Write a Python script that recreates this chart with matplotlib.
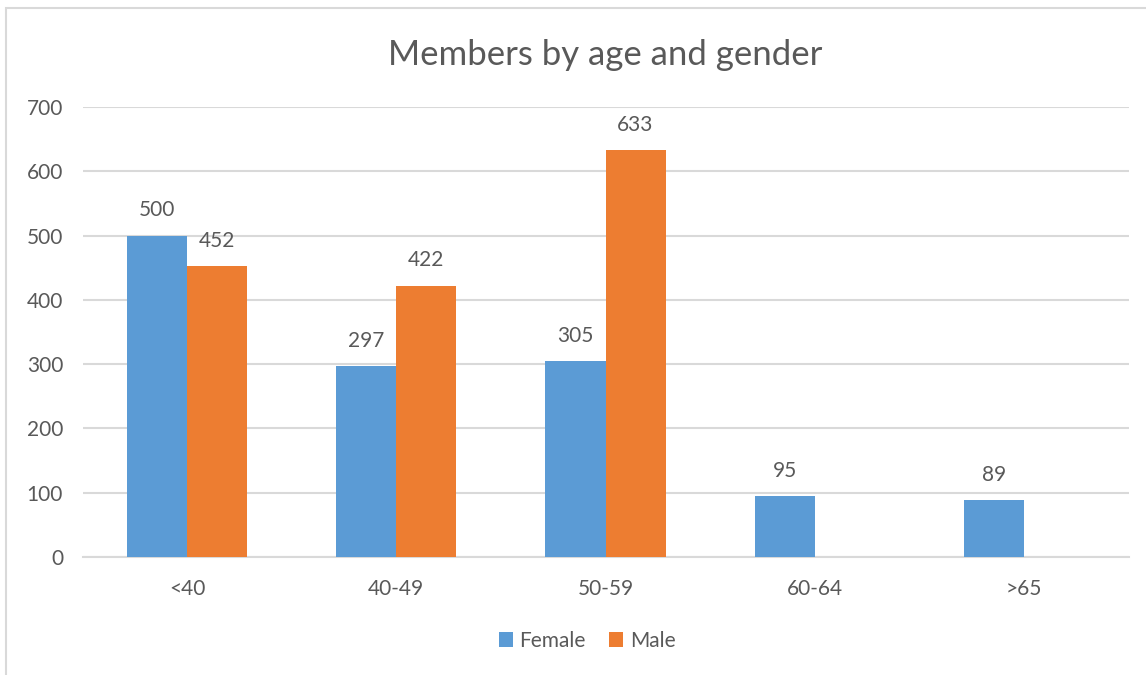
import matplotlib
matplotlib.use("Agg")
from matplotlib import pyplot as plt
from matplotlib.patches import Rectangle
import numpy as np

plt.rcParams['font.family'] = ['Lato', 'DejaVu Sans']

# data
age_groups = ['<40', '40-49', '50-59', '60-64', '>65']
female = [500, 297, 305, 95, 89]
male = [452, 422, 633, None, None]

TEXT = '#595959'
BLUE = '#5B9BD5'
ORANGE = '#ED7D31'
GRID = '#D9D9D9'

W, H = 1146, 675
fig = plt.figure(figsize=(W / 100, H / 100), dpi=100)

# chart border (only top and left show in the crop)
fig.patches.append(Rectangle((6 / W, -0.1), 1.2, (H - 8) / H + 0.1,
                             transform=fig.transFigure, fill=False,
                             edgecolor='#D9D9D9', linewidth=1.5))

ax = fig.add_axes([82.5 / W, (H - 557) / H, (1128.5 - 82.5) / W, (557 - 107) / H])

x = np.arange(len(age_groups))
bw = 0.287
m_vals = [v if v is not None else 0 for v in male]
b1 = ax.bar(x - bw / 2, female, bw, color=BLUE, label='Female', zorder=3)
b2 = ax.bar(x + bw / 2, m_vals, bw, color=ORANGE, label='Male', zorder=3)

for rects, vals in ((b1, female), (b2, male)):
    for r, v in zip(rects, vals):
        if v is None:
            continue
        ax.annotate(str(v), (r.get_x() + r.get_width() / 2, v),
                    xytext=(0, 11), textcoords='offset points',
                    ha='center', va='bottom', fontsize=15, color=TEXT)

ax.set_xlim(-0.5, len(age_groups) - 0.5)
ax.set_ylim(0, 700)
ax.set_yticks(range(0, 701, 100))
ax.set_xticks(x)
ax.set_xticklabels(age_groups)
ax.yaxis.grid(True, color=GRID, linewidth=1.5, zorder=0)
ax.set_axisbelow(True)
for s in ('top', 'right', 'left'):
    ax.spines[s].set_visible(False)
ax.spines['bottom'].set_color(GRID)
ax.spines['bottom'].set_linewidth(1.5)
ax.tick_params(axis='both', length=0, labelsize=15, colors=TEXT)
ax.tick_params(axis='x', pad=16)
ax.tick_params(axis='y', pad=14)

fig.text(605 / W, 1 - 55 / H, 'Members by age and gender', ha='center',
         va='center', fontsize=25, color=TEXT)

fig.legend(handles=[b1, b2], loc='center', bbox_to_anchor=(587 / W, 1 - 641 / H),
           ncol=2, frameon=False, fontsize=15, labelcolor=TEXT,
           handlelength=0.7, handleheight=0.7, handletextpad=0.3,
           columnspacing=1.1)

plt.savefig('out.png', dpi=100)
